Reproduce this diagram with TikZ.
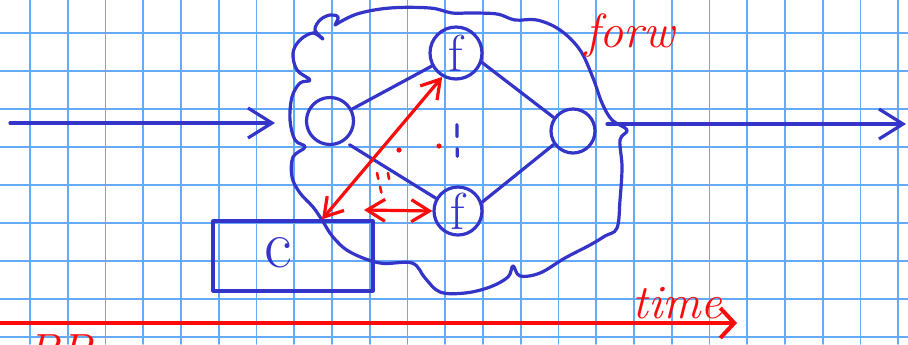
\documentclass[tikz,border=0pt]{standalone}
\usetikzlibrary{arrows.meta}
\definecolor{penblue}{RGB}{52,52,200}
\definecolor{penred}{RGB}{250,12,12}
\definecolor{gridblue}{RGB}{100,170,250}
\begin{document}
\begin{tikzpicture}[x=0.5pt, y=-0.5pt, line cap=round, line join=round,
        pen/.style={draw=penblue, line width=1.6pt},
        redpen/.style={draw=penred, line width=1.6pt},
        unit/.style={circle, pen, inner sep=0pt, text=penblue, font=\fontsize{26}{26}\selectfont},
        scribble/.style={text=penred, inner sep=0pt, font=\fontsize{24}{24}\selectfont\itshape},
        barb/.style={-{Straight Barb[length=12pt, width=15pt]}},
        redbarb/.style={{Straight Barb[length=9pt, width=11pt]}-{Straight Barb[length=9pt, width=11pt]}}]
        \useasboundingbox (0,0) rectangle (908,344);
        % Grid paper
        \fill[white] (0,0) rectangle (908,344);
        \foreach \i in {0,...,23} \draw[gridblue, line width=0.9pt] ({30+37.75*\i},0) -- ({30+37.75*\i},344);
        \foreach \j in {0,...,8} \draw[gridblue, line width=0.9pt] (0,{33.3+38*\j}) -- (908,{33.3+38*\j});

        % Cloud around the network
        \draw[pen] plot[smooth, tension=0.6] coordinates {
            (335,25) (357,14) (390,8) (430,8) (452,13) (470,13) (497,14) (515,20) (537,20)
            (560,30) (580,50) (593,78) (602,103) (612,120) (627,130) (620,140) (622,167)
            (620,200) (617,228) (605,236) (590,245) (565,258) (540,273) (520,276) (513,266)
            (508,277) (490,287) (465,293) (440,292) (425,278) (412,263) (380,263) (350,252)
            (333,237) (322,220) (313,207) (300,193) (292,177) (293,157) (305,147) (295,140)
            (290,120) (292,97) (300,83) (310,80) (297,70) (293,53) (300,40) (313,33) (323,39)
            (315,30) (320,20) (330,15) (338,17) (335,25)};

        % Nodes
        \node (L) [unit, minimum size=23.5pt] at (330,121) {};
        \node (T) [unit, minimum size=26pt] at (456,53) {f};
        \node (B) [unit, minimum size=24pt] at (458,211) {f};
        \node (R) [unit, minimum size=22pt] at (573,131) {};
        \node (C) [pen, minimum width=80pt, minimum height=35pt] at (293,256) {};
        \node (c) [text=penblue, font=\fontsize{34}{34}\selectfont] at (278,253) {c};
        \coordinate (in) at (10,123);
        \coordinate (inend) at (275,123);
        \coordinate (out) at (607,124);
        \coordinate (outend) at (906,124);

        % Edges
        \draw[pen, barb] (in) -- (inend);
        \draw[pen, barb] (out) -- (outend);
        \draw[pen] (L) -- (T);
        \draw[pen, shorten <=3pt] (L.-55) -- (B.150);
        \draw[pen] (T.-20) -- (R.145);
        \draw[pen] (B.20) -- (R.215);
        \draw[pen, dash pattern=on 6pt off 6pt, shorten <=22pt, shorten >=14.5pt] (T) -- (B);

        % Red marks
        \coordinate (h) at (364,210);
        \draw[redpen, redbarb] ([xshift=14.5pt]C.north) -- (T.240);
        \draw[redpen, redbarb] (h) -- (B.west);
        \fill[penred] (399,150) circle (1.3pt);
        \fill[penred] (439,146) circle (1.3pt);
        \draw[penred, line width=1.3pt, dash pattern=on 3pt off 4pt] (377,173) -- (383,200);
        \draw[penred, line width=1.3pt, dash pattern=on 3pt off 4pt] (388,173) -- (390,185);

        % Time axis
        \coordinate (t0) at (0,323);
        \coordinate (t1) at (737,323);
        \draw[redpen, line width=2pt, -{Straight Barb[length=7pt, width=15pt]}] (t0) -- (t1);
        \node (time) [scribble, anchor=base west] at (632,318) {time};
        \node (forw) [scribble, anchor=base west] at (585,47) {forw};
        \node (bp) [scribble, anchor=north west] at (26,334) {BP};
    \end{tikzpicture}
\end{document}
